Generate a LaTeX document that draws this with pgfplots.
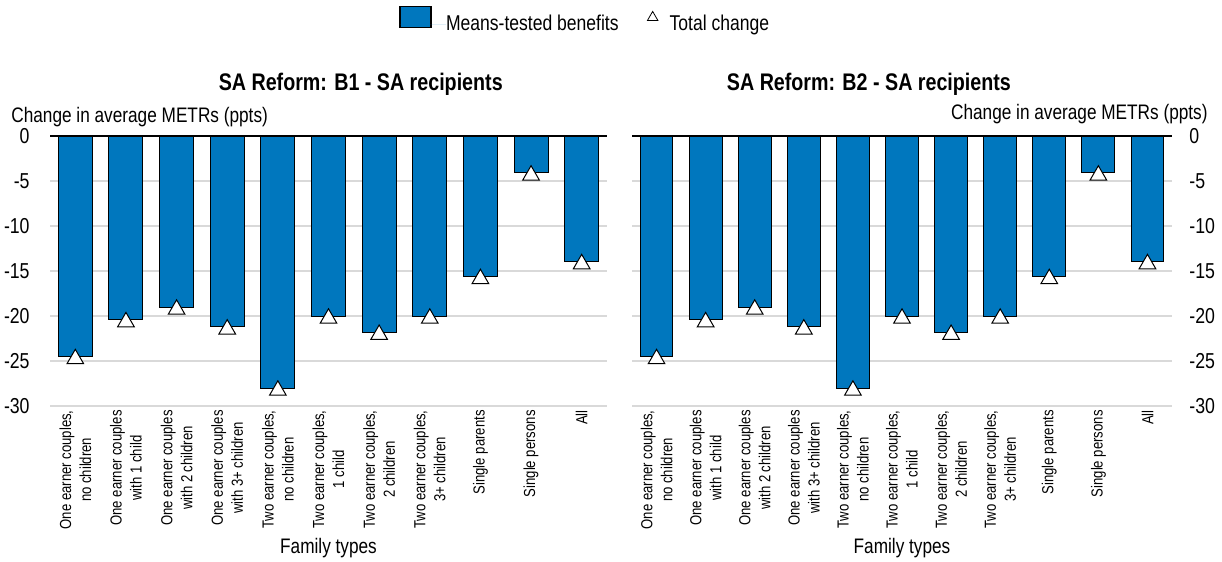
\documentclass[border=0pt]{standalone}
\usepackage{fontspec}
\setmainfont{Liberation Sans}[FakeStretch=0.82]
\usepackage{pgfplots}
\pgfplotsset{compat=1.18}

\definecolor{oecdblue}{RGB}{0,119,190}
\definecolor{gridgray}{RGB}{217,217,217}

% shared look of both panels
\pgfplotsset{
  metrpanel/.style={
    scale only axis,
    clip=false,
    height=135pt,
    xmin=-0.5, xmax=10.5,
    ymin=-30, ymax=0,
    ytick={-30,-25,...,0},
    xtick={0,...,10},
    xticklabels={{One earner couples,\\no children},{One earner couples\\with 1 child},{One earner couples\\with 2 children},{One earner couples\\with 3+ children},{Two earner couples,\\no children},{Two earner couples,\\1 child},{Two earner couples,\\2 children},{Two earner couples,\\3+ children},{Single parents},{Single persons},{All}},
    axis line style={draw=none},
    major tick length=0pt,
    ymajorgrids,
    major grid style={gridgray, line width=1pt},
    extra y ticks={0},
    extra y tick labels={},
    extra y tick style={major grid style={black, line width=1.2pt}},
    /pgf/number format/assume math mode=true,
    yticklabel style={font=\fontsize{10.8}{12}\selectfont, inner sep=0pt},
    xticklabel style={rotate=90, anchor=east, align=center, font=\fontsize{8}{10}\selectfont, inner xsep=2pt, inner ysep=0pt},
    xlabel={Family types},
    xlabel style={at={(axis description cs:0.5,0)}, anchor=center, yshift=-71pt, font=\fontsize{10.5}{12}\selectfont},
    title style={font=\fontsize{12}{14}\selectfont\bfseries, yshift=20pt},
  }
}

\begin{document}
\begin{tikzpicture}
\useasboundingbox (0pt,0pt) rectangle (611pt,-281pt);

\begin{axis}[metrpanel,
  width=278.5pt,
  at={(25pt,-203pt)}, anchor=south west,
  yticklabel style={xshift=-10pt},
  title={SA Reform: B1 - SA recipients},
  title style={at={(axis description cs:0,1)}, anchor=west, xshift=80.85pt},
  legend columns=2,
  legend style={at={(0.6266,1.4315)}, anchor=west, draw=none, fill=none, inner sep=0pt,
    font=\fontsize{10.7}{12}\selectfont, nodes={inner sep=0pt},
    /tikz/every even column/.append style={column sep=11.5pt}},
]
\addplot[ybar, bar width=0.67, fill=oecdblue, draw=black, line width=0.5pt,
  legend image code/.code={\draw[fill=oecdblue, draw=black, line width=0.6pt] (0pt,-1.65pt) rectangle (15.5pt,8.85pt); \path[draw=none] (0pt,0pt) -- (23pt,0pt);}]
  coordinates {(0,-24.5) (1,-20.4) (2,-19.0) (3,-21.2) (4,-28.0) (5,-20.0) (6,-21.8) (7,-20.0) (8,-15.6) (9,-4.1) (10,-13.95)};
\addlegendentry{Means-tested benefits}
\addplot[only marks, mark=triangle*, mark size=4.8pt, line width=0.5pt,
  mark options={fill=white, draw=black, yshift=-1.2pt},
  legend image code/.code={\path[draw=none] (0pt,0pt) -- (14pt,0pt); \draw[line width=0.4pt] plot[mark=triangle*, mark size=3pt, mark options={fill=white, draw=black}] coordinates {(5.5pt,3.3pt)};}]
  coordinates {(0,-24.5) (1,-20.4) (2,-19.0) (3,-21.2) (4,-28.0) (5,-20.0) (6,-21.8) (7,-20.0) (8,-15.6) (9,-4.1) (10,-13.95)};
\addlegendentry{Total change}
\node[anchor=west, font=\fontsize{10.5}{12}\selectfont, inner sep=0pt] at ([xshift=-19.5pt, yshift=9.5pt]rel axis cs:0,1) {Change in average METRs (ppts)};
\end{axis}

\begin{axis}[metrpanel,
  width=270pt,
  at={(316pt,-203pt)}, anchor=south west,
  yticklabel pos=right,
  yticklabel style={xshift=8.5pt},
  title={SA Reform: B2 - SA recipients},
  title style={at={(axis description cs:0,1)}, anchor=east, xshift=193pt},
]
\addplot[ybar, bar width=0.67, fill=oecdblue, draw=black, line width=0.5pt]
  coordinates {(0,-24.5) (1,-20.4) (2,-19.0) (3,-21.2) (4,-28.0) (5,-20.0) (6,-21.8) (7,-20.0) (8,-15.6) (9,-4.1) (10,-13.95)};
\addplot[only marks, mark=triangle*, mark size=4.8pt, line width=0.5pt,
  mark options={fill=white, draw=black, yshift=-1.2pt}]
  coordinates {(0,-24.5) (1,-20.4) (2,-19.0) (3,-21.2) (4,-28.0) (5,-20.0) (6,-21.8) (7,-20.0) (8,-15.6) (9,-4.1) (10,-13.95)};
\node[anchor=east, font=\fontsize{10.5}{12}\selectfont, inner sep=0pt] at ([xshift=18pt, yshift=11pt]rel axis cs:1,1) {Change in average METRs (ppts)};
\end{axis}
\end{tikzpicture}
\end{document}
